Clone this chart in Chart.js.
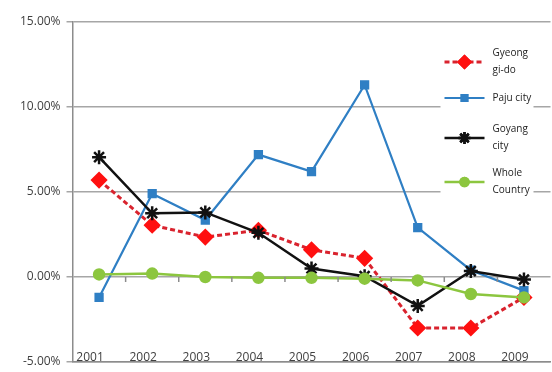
<!DOCTYPE html>
<html>
<head>
<meta charset="utf-8">
<title>Growth rate</title>
<script src="https://cdn.jsdelivr.net/npm/chart.js@4.4.0/dist/chart.umd.min.js"></script>
<style>
    html, body { margin: 0; padding: 0; background: #fff; overflow: hidden; }
    /* plot runs off the right edge of the page */
    #wrap { width: 560px; height: 372px; position: relative; }
</style>
</head>
<body>
<div id="wrap"><canvas id="rateChart"></canvas></div>
<script>
const years = ['2001', '2002', '2003', '2004', '2005', '2006', '2007', '2008', '2009'];
const gyeonggi = [5.7, 3.05, 2.35, 2.75, 1.6, 1.1, -3.0, -3.0, -1.2];
const paju = [-1.2, 4.9, 3.35, 7.2, 6.2, 11.3, 2.9, 0.4, -0.8];
const goyang = [7.05, 3.75, 3.8, 2.6, 0.5, 0.05, -1.7, 0.35, -0.15];
const wholeCountry = [0.15, 0.2, 0.0, -0.05, -0.05, -0.1, -0.2, -1.0, -1.2];
const yTicks = [-5, 0, 5, 10, 15];
const legendText = [['Gyeong', 'gi-do'], ['Paju city'], ['Goyang', 'city'], ['Whole', 'Country']];

const FONT = '"Open Sans", "Liberation Sans", sans-serif';

// legend drawn inside the plot, on a white box at the right
const boxLegend = {
    id: 'boxLegend',
    afterDatasetsDraw(chart) {
        const ctx = chart.ctx;
        const area = chart.chartArea;
        const left = area.right - 110, top = area.top + 8;
        ctx.save();
        ctx.fillStyle = '#fff';
        ctx.fillRect(left, top, 93, 176);
        const rows = [40, 76, 116, 160];
        chart.data.datasets.forEach((ds, i) => {
            const y = top + rows[i] - 8;
            ctx.strokeStyle = ds.borderColor;
            ctx.lineWidth = ds.borderWidth;
            ctx.setLineDash(ds.borderDash || []);
            ctx.beginPath();
            ctx.moveTo(left + 4, y);
            ctx.lineTo(left + 44, y);
            ctx.stroke();
            ctx.setLineDash([]);
            Chart.helpers.drawPoint(ctx, {
                pointStyle: ds.pointStyle,
                radius: ds.pointRadius - 1,
                borderWidth: ds.pointBorderWidth || 1,
                rotation: 0
            }, left + 24, y);
            ctx.fillStyle = ds.pointBackgroundColor;
            ctx.strokeStyle = ds.pointBorderColor;
            ctx.fill();
            ctx.stroke();
            const lines = legendText[i];
            ctx.fillStyle = '#222';
            ctx.font = '10px ' + FONT;
            ctx.textBaseline = 'middle';
            lines.forEach((t, k) => {
                const ty = y + (k - (lines.length - 1) / 2) * 17;
                ctx.fillText(t, left + 52, ty);
            });
        });
        ctx.restore();
    }
};

// short tick marks under the zero line, between the categories
const zeroTicks = {
    id: 'zeroTicks',
    afterDraw(chart) {
        const x = chart.scales.x, y = chart.scales.y;
        const y0 = y.getPixelForValue(0);
        const half = (x.getPixelForValue(1) - x.getPixelForValue(0)) / 2;
        const ctx = chart.ctx;
        ctx.save();
        ctx.strokeStyle = '#8c8c8c';
        ctx.lineWidth = 1.5;
        for (let i = 0; i < years.length - 1; i++) {
            const px = x.getPixelForValue(i) + half;
            ctx.beginPath();
            ctx.moveTo(px, y0);
            ctx.lineTo(px, y0 + 5);
            ctx.stroke();
        }
        ctx.restore();
    }
};

new Chart(document.getElementById('rateChart'), {
    type: 'line',
    data: {
        labels: years,
        datasets: [{
            label: 'Gyeong gi-do',
            data: gyeonggi,
            borderColor: '#d9232e',
            borderWidth: 3,
            borderDash: [5, 3],
            pointStyle: 'rectRot',
            pointRadius: 6.5,
            pointBackgroundColor: '#ff1010',
            pointBorderColor: '#ff1010',
            order: 3
        }, {
            label: 'Paju city',
            data: paju,
            borderColor: '#2f7fc4',
            borderWidth: 2.2,
            pointStyle: 'rect',
            pointRadius: 5,
            pointBackgroundColor: '#2f7fc4',
            pointBorderColor: '#2f7fc4',
            order: 2
        }, {
            label: 'Goyang city',
            data: goyang,
            borderColor: '#111',
            borderWidth: 2.5,
            pointStyle: 'star',
            pointRadius: 7,
            pointBorderWidth: 2.5,
            pointBackgroundColor: '#111',
            pointBorderColor: '#111',
            order: 1
        }, {
            label: 'Whole Country',
            data: wholeCountry,
            borderColor: '#8cc63f',
            borderWidth: 2.5,
            pointStyle: 'circle',
            pointRadius: 5,
            pointBackgroundColor: '#8cc63f',
            pointBorderColor: '#8cc63f',
            order: 0
        }]
    },
    options: {
        responsive: true,
        maintainAspectRatio: false,
        animation: false,
        layout: { padding: { top: 22, right: 0, bottom: 0, left: 14 } },
        plugins: {
            legend: { display: false },
            tooltip: { enabled: false }
        },
        scales: {
            x: {
                offset: true,
                grid: { display: false, drawTicks: false },
                border: { display: true, color: '#8c8c8c', width: 1.5 },
                ticks: {
                    mirror: true,
                    padding: -3,
                    labelOffset: -9,
                    color: '#404040',
                    font: { family: FONT, size: 12 }
                },
                afterFit(scale) {
                    // labels sit inside the plot, so keep the axis band thin
                    scale.height = 10;
                    scale.paddingLeft = 0;
                    scale.paddingRight = 0;
                }
            },
            y: {
                min: -5,
                max: 15,
                afterBuildTicks(scale) {
                    scale.ticks = yTicks.map(v => ({ value: v }));
                },
                afterFit(scale) {
                    scale.paddingTop = 0;
                    scale.paddingBottom = 0;
                },
                grid: { color: '#a6a6a6', lineWidth: 1.5, tickLength: 6 },
                border: { color: '#8c8c8c', width: 1.5 },
                ticks: {
                    padding: 6,
                    color: '#404040',
                    font: { family: FONT, size: 12 },
                    callback: v => v.toFixed(2) + '%'
                }
            }
        }
    },
    plugins: [boxLegend, zeroTicks]
});
</script>
</body>
</html>
